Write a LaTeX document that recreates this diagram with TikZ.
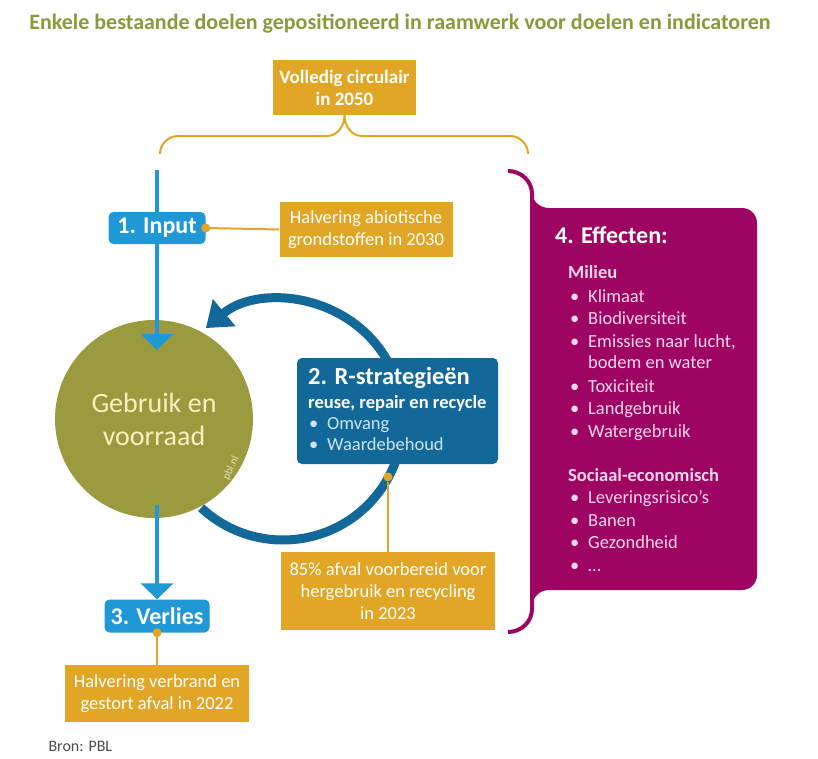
\documentclass[tikz,border=0pt]{standalone}
\usepackage{fontspec}
\setmainfont{Carlito}
\usetikzlibrary{arrows.meta,positioning}

\definecolor{pblgold}{RGB}{226,166,38}
\definecolor{pblblue}{RGB}{33,152,214}
\definecolor{pbldark}{RGB}{18,104,152}
\definecolor{pblolive}{RGB}{154,155,62}
\definecolor{pbltitle}{RGB}{138,154,58}
\definecolor{pblplum}{RGB}{158,4,98}
\definecolor{pblcream}{RGB}{246,240,192}
\definecolor{pblpink}{RGB}{250,214,234}
\definecolor{pblsky}{RGB}{205,228,242}

\tikzset{
  goalbox/.style={fill=pblgold, text=white, align=center, inner sep=0pt,
    font=\fontsize{18.5}{22}\selectfont},
  stagebox/.style={fill=pblblue, rounded corners=5pt, text=white, inner sep=0pt,
    font=\bfseries\fontsize{24}{26}\selectfont},
  goaldot/.style={circle, fill=pblgold, inner sep=0pt, minimum size=9pt},
  goalline/.style={pblgold, line width=2pt},
  flowline/.style={pblblue, line width=4pt, -{Triangle[width=32pt,length=16pt]}},
  efftext/.style={text=pblpink, font=\fontsize{18.5}{20}\selectfont, inner sep=0pt},
  rtext/.style={text=pblsky, font=\fontsize{18.5}{20}\selectfont, inner sep=0pt},
}

\begin{document}
\begin{tikzpicture}[x=1pt, y=-1pt]
    % the frame
    \useasboundingbox[fill=white] (0,0) rectangle (818,758);

    % title and source
    \node[anchor=base, text=pbltitle, font=\bfseries\fontsize{22}{24}\selectfont] (title)
        at (400,29) {Enkele bestaande doelen gepositioneerd in raamwerk voor doelen en indicatoren};
    \node[anchor=base west, text=black!70, font=\fontsize{16}{18}\selectfont] (source)
        at (45,751) {Bron: PBL};

    % the loop of the R-strategies
    \coordinate (loopc) at (283,420);
    \draw[pbldark, line width=9pt, -{Triangle[width=34pt,length=24pt]}]
        (loopc) ++(133:120) arc[start angle=133, end angle=-130, radius=120];

    % use and stock
    \node[circle, fill=pblolive, minimum size=198pt, text=pblcream, align=center,
          font=\fontsize{28}{33}\selectfont] (gebruik) at (154,419) {Gebruik en\\voorraad};
    \node[rotate=65, text=pblcream, opacity=0.8, font=\fontsize{11}{11}\selectfont] (pblmark)
        at (231,468) {pbl.nl};

    % input and loss
    \coordinate (instart) at (157,170);
    \coordinate (intip) at (157,350);
    \coordinate (outstart) at (157,505);
    \draw[flowline] (instart) -- (intip);
    \node[stagebox, minimum width=97pt, minimum height=32pt] (input) at (157,228) {1. Input};
    \node[stagebox, minimum width=105pt, minimum height=33pt] (verlies) at (157,616) {3. Verlies};
    \draw[flowline] (outstart) -- (verlies.north);

    % R-strategies box
    \node[fill=pbldark, rounded corners=5pt, minimum width=201pt, minimum height=106pt] (rbox)
        at (397.5,411) {};
    \node[anchor=base west, text=white, inner sep=0pt, font=\bfseries\fontsize{24.5}{26}\selectfont]
        (rtitle) at (308,384) {2. R-strategieën};
    \node[anchor=base west, text=white, inner sep=0pt, font=\bfseries\fontsize{18.5}{20}\selectfont]
        (rsub) at (308,408) {reuse, repair en recycle};
    \foreach \yy/\txt [count=\i] in {429/Omvang, 450/Waardebehoud} {
        \node[rtext, anchor=base west] (rdot\i) at (309,\yy) {•};
        \node[rtext, anchor=base west] (ritem\i) at (327,\yy) {\txt};
    };

    % goals
    \node[goalbox, font=\bfseries\fontsize{19}{22}\selectfont, minimum width=143pt, minimum height=55pt]
        (circulair) at (344.5,87.5) {Volledig circulair\\in 2050};
    \node[goalbox, minimum width=173pt, minimum height=55pt] (halfabio)
        at (366,229.5) {Halvering abiotische\\grondstoffen in 2030};
    \node[goalbox, minimum width=214pt, minimum height=78pt] (afval)
        at (388,591) {85\% afval voorbereid voor\\hergebruik en recycling\\in 2023};
    \node[goalbox, minimum width=184pt, minimum height=57pt] (halfverbrand)
        at (157,693.5) {Halvering verbrand en\\gestort afval in 2022};

    % links to the goals
    \draw[goalline] (input.east) -- (halfabio.west);
    \node[goaldot] (dotin) at (input.east) {};
    \node[goaldot] (dotr) at (388,477) {};
    \draw[goalline] (dotr) -- (afval.north);
    \draw[goalline] (verlies.south) -- (halfverbrand.north);
    \node[goaldot] (dotout) at (verlies.south) {};

    % the brace
    \draw[goalline] (160,154) to[out=90,in=180] (178,136) -- (327,136)
        to[out=0,in=-90] (circulair.south) to[out=-90,in=180] (362,136) -- (510,136)
        to[out=0,in=90] (528,154);

    % the effects
    \fill[pblplum] (532,192) to[out=-90,in=180] (549,208) -- (742,208)
        arc[start angle=-90, end angle=0, radius=15] -- (757,575)
        arc[start angle=0, end angle=90, radius=15] -- (549,590)
        to[out=180,in=90] (532,607) -- cycle;
    \draw[pblplum, line width=4pt] (508,171) to[out=0,in=90] (532,194) -- (532,609)
        to[out=-90,in=0] (508,632);
    \node[anchor=base west, text=white, inner sep=0pt, font=\bfseries\fontsize{24}{26}\selectfont]
        (efftitle) at (555,243) {4. Effecten:};
    \node[efftext, anchor=base west, font=\bfseries\fontsize{18.5}{20}\selectfont] (milieu)
        at (568,278) {Milieu};
    \node[efftext, anchor=base west, font=\bfseries\fontsize{18.5}{20}\selectfont] (sociaal)
        at (568,481) {Sociaal-economisch};
    \foreach \yy/\txt [count=\i] in {302/Klimaat, 324/Biodiversiteit, 347/{Emissies naar lucht,},
        392/Toxiciteit, 414/Landgebruik, 437/Watergebruik, 503/Leveringsrisico’s,
        526/Banen, 548/Gezondheid, 571/…} {
        \node[efftext, anchor=base west] (effdot\i) at (570,\yy) {•};
        \node[efftext, anchor=base west] (eff\i) at (588,\yy) {\txt};
    };
    \node[efftext, anchor=base west] (effwater) at (588,368) {bodem en water};
\end{tikzpicture}
\end{document}
